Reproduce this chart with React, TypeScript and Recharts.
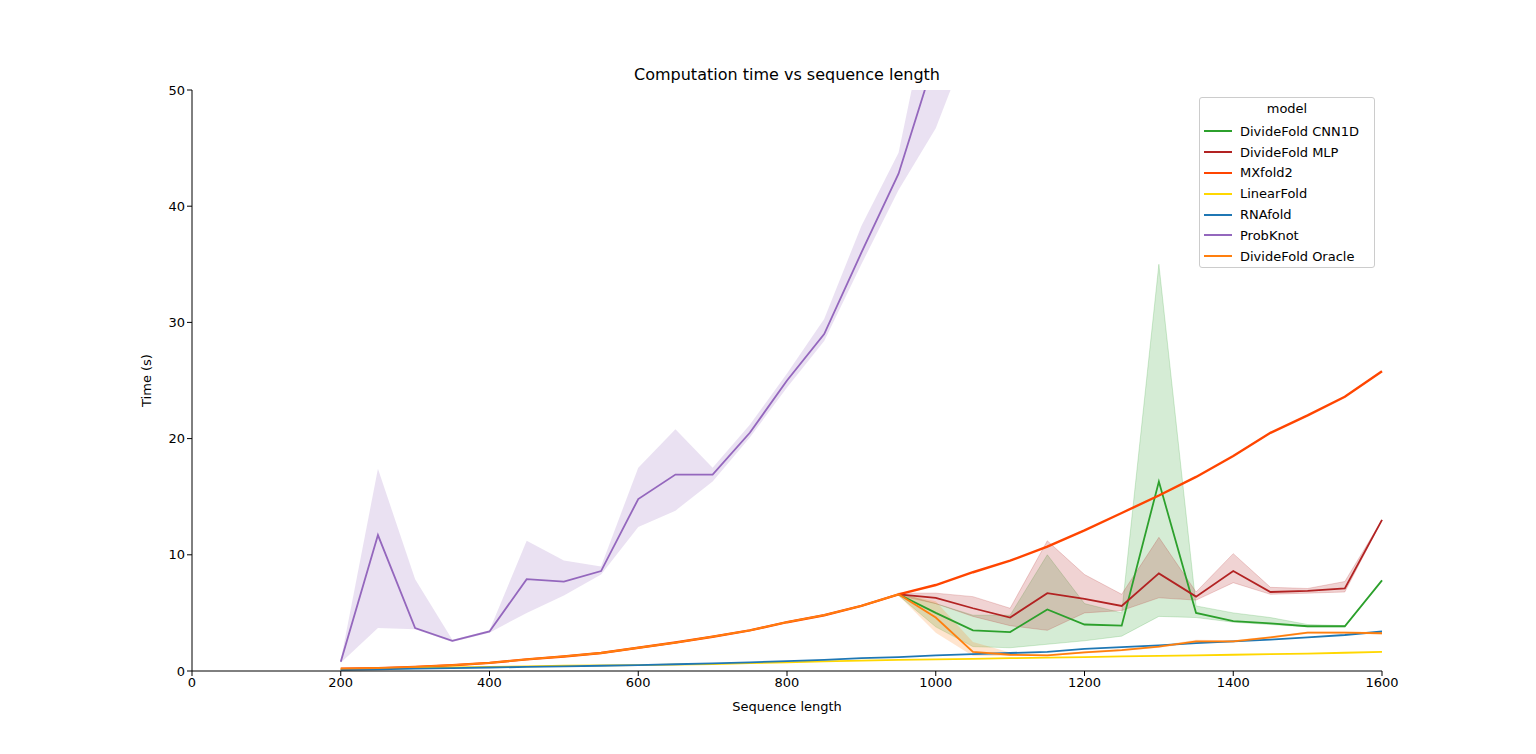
import React from 'react';
import { ComposedChart, Line, Area, XAxis, YAxis } from 'recharts';

const lengths = [200, 250, 300, 350, 400, 450, 500, 550, 600, 650, 700, 750, 800, 850, 900, 950, 1000, 1050, 1100, 1150, 1200, 1250, 1300, 1350, 1400, 1450, 1500, 1550, 1600];
const N = null;

const mxfold2 = [0.2, 0.25, 0.35, 0.5, 0.7, 1.0, 1.25, 1.55, 2.0, 2.45, 2.95, 3.5, 4.2, 4.8, 5.6, 6.6, 7.4, 8.5, 9.5, 10.7, 12.1, 13.6, 15.1, 16.7, 18.5, 20.5, 22.0, 23.6, 25.8];
const probknot = [0.8, 11.7, 3.7, 2.6, 3.4, 7.9, 7.7, 8.6, 14.8, 16.9, 16.9, 20.5, 25.0, 29.0, 36.0, 42.8, 53.0, 62.0, N, N, N, N, N, N, N, N, N, N, N];
const probknotLo = [0.7, 3.7, 3.6, 2.5, 3.3, 5.0, 6.5, 8.3, 12.4, 13.8, 16.3, 20.1, 24.4, 28.4, 35.0, 41.4, 46.7, 55, N, N, N, N, N, N, N, N, N, N, N];
const probknotHi = [0.9, 17.4, 7.9, 2.7, 3.5, 11.2, 9.5, 9.0, 17.5, 20.8, 17.5, 21.2, 25.6, 30.3, 38.3, 44.6, 60, 70, N, N, N, N, N, N, N, N, N, N, N];
const cnn1d = [N, N, N, N, N, N, N, N, N, N, N, N, N, N, N, 6.6, 5.0, 3.5, 3.35, 5.3, 4.0, 3.9, 16.3, 5.0, 4.3, 4.1, 3.85, 3.85, 7.8];
const cnn1dLo = [N, N, N, N, N, N, N, N, N, N, N, N, N, N, N, 6.5, 3.8, 2.1, 2.0, 2.3, 2.6, 3.0, 4.7, 4.6, 4.2, 4.0, 3.8, 3.8, 7.8];
const cnn1dHi = [N, N, N, N, N, N, N, N, N, N, N, N, N, N, N, 6.7, 5.8, 4.8, 4.8, 10.0, 5.8, 5.0, 35.0, 5.6, 5.0, 4.6, 4.0, 3.9, 7.8];
const mlp = [N, N, N, N, N, N, N, N, N, N, N, N, N, N, N, 6.6, 6.3, 5.4, 4.6, 6.7, 6.2, 5.6, 8.4, 6.4, 8.6, 6.8, 6.9, 7.1, 13.0];
const mlpLo = [N, N, N, N, N, N, N, N, N, N, N, N, N, N, N, 6.5, 5.8, 4.7, 3.9, 3.5, 5.0, 5.2, 6.3, 6.1, 7.6, 6.6, 6.7, 6.8, 13.0];
const mlpHi = [N, N, N, N, N, N, N, N, N, N, N, N, N, N, N, 6.7, 6.7, 6.4, 5.4, 11.2, 8.3, 6.6, 11.5, 6.8, 10.1, 7.2, 7.1, 7.7, 13.0];
const oracle = [0.2, 0.25, 0.35, 0.5, 0.7, 1.0, 1.25, 1.55, 2.0, 2.45, 2.95, 3.5, 4.2, 4.8, 5.6, 6.6, 4.6, 1.65, 1.4, 1.35, 1.6, 1.8, 2.1, 2.55, 2.55, 2.9, 3.3, 3.3, 3.25];
const oracleLo = [N, N, N, N, N, N, N, N, N, N, N, N, N, N, N, 6.5, 3.3, 1.3, 1.3, 1.3, 1.5, 1.7, 2.0, 2.4, 2.45, 2.8, 3.2, 3.2, 3.15];
const oracleHi = [N, N, N, N, N, N, N, N, N, N, N, N, N, N, N, 6.7, 6.0, 2.5, 1.6, 1.45, 1.7, 1.9, 2.2, 2.7, 2.65, 3.0, 3.4, 3.4, 3.35];
const rnafold = [0.1, 0.15, 0.2, 0.25, 0.3, 0.35, 0.4, 0.45, 0.5, 0.58, 0.65, 0.75, 0.85, 0.95, 1.1, 1.2, 1.35, 1.45, 1.55, 1.65, 1.9, 2.05, 2.2, 2.4, 2.55, 2.7, 2.9, 3.1, 3.4];
const linearfold = [0.15, 0.2, 0.25, 0.3, 0.35, 0.4, 0.45, 0.48, 0.5, 0.55, 0.6, 0.68, 0.75, 0.82, 0.9, 0.95, 1.0, 1.05, 1.1, 1.15, 1.2, 1.25, 1.3, 1.35, 1.4, 1.45, 1.5, 1.57, 1.65];

const xTicks = [0, 200, 400, 600, 800, 1000, 1200, 1400, 1600];
const yTicks = [0, 10, 20, 30, 40, 50];

const pair = (lo: (number | null)[], hi: (number | null)[], i: number) =>
  lo[i] == null || hi[i] == null ? null : [lo[i], hi[i]];

const data = lengths.map((len, i) => ({
  len,
  mxfold2: mxfold2[i],
  probknot: probknot[i],
  probknotBand: pair(probknotLo, probknotHi, i),
  cnn1d: cnn1d[i],
  cnn1dBand: pair(cnn1dLo, cnn1dHi, i),
  mlp: mlp[i],
  mlpBand: pair(mlpLo, mlpHi, i),
  oracle: oracle[i],
  oracleBand: pair(oracleLo, oracleHi, i),
  rnafold: rnafold[i],
  linearfold: linearfold[i],
}));

const legendItems = [
  { name: 'DivideFold CNN1D', color: '#2ca02c' },
  { name: 'DivideFold MLP', color: '#b22222' },
  { name: 'MXfold2', color: '#ff4500' },
  { name: 'LinearFold', color: '#ffd700' },
  { name: 'RNAfold', color: '#1f77b4' },
  { name: 'ProbKnot', color: '#9467bd' },
  { name: 'DivideFold Oracle', color: '#ff7f0e' },
];

const font = 'DejaVu Sans, sans-serif';
const tick = { fill: '#000', fontSize: 13, fontFamily: font };

export default function App() {
  return (
    <div style={{ position: 'absolute', left: 0, top: 0, width: 1536, height: 754, background: '#fff', fontFamily: font }}>
      <div style={{ position: 'absolute', top: 65, left: 192, width: 1190, textAlign: 'center', fontSize: 16 }}>
        Computation time vs sequence length
      </div>
      <ComposedChart width={1536} height={754} data={data} margin={{ top: 90, right: 154, bottom: 43, left: 132 }}>
        <XAxis dataKey="len" type="number" domain={[0, 1600]} ticks={xTicks} tick={tick} stroke="#000"
          tickSize={5} height={40}
          label={{ value: 'Sequence length', position: 'insideBottom', offset: 0, fill: '#000', fontSize: 13, fontFamily: font }} />
        <XAxis xAxisId="top" orientation="top" dataKey="len" type="number" domain={[0, 1600]} tick={false} tickLine={false} stroke="#000" height={0} />
        <YAxis type="number" domain={[0, 50]} ticks={yTicks} allowDataOverflow tick={tick} stroke="#000" tickSize={5} width={60}
          label={{ value: 'Time (s)', angle: -90, position: 'insideLeft', offset: 14, fill: '#000', fontSize: 13, fontFamily: font, style: { textAnchor: 'middle' } }} />
        <YAxis yAxisId="right" orientation="right" domain={[0, 50]} tick={false} tickLine={false} stroke="#000" width={0} />
        <Area dataKey="probknotBand" stroke="none" fill="#9467bd" fillOpacity={0.2} isAnimationActive={false} />
        <Area dataKey="cnn1dBand" stroke="#2ca02c" strokeOpacity={0.2} fill="#2ca02c" fillOpacity={0.2} isAnimationActive={false} />
        <Area dataKey="mlpBand" stroke="#b22222" strokeOpacity={0.2} fill="#b22222" fillOpacity={0.2} isAnimationActive={false} />
        <Area dataKey="oracleBand" stroke="none" fill="#ff7f0e" fillOpacity={0.2} isAnimationActive={false} />
        <Line dataKey="cnn1d" stroke="#2ca02c" strokeWidth={1.8} dot={false} isAnimationActive={false} />
        <Line dataKey="mlp" stroke="#b22222" strokeWidth={1.8} dot={false} isAnimationActive={false} />
        <Line dataKey="mxfold2" stroke="#ff4500" strokeWidth={2.4} dot={false} isAnimationActive={false} />
        <Line dataKey="linearfold" stroke="#ffd700" strokeWidth={1.8} dot={false} isAnimationActive={false} />
        <Line dataKey="rnafold" stroke="#1f77b4" strokeWidth={1.8} dot={false} isAnimationActive={false} />
        <Line dataKey="probknot" stroke="#9467bd" strokeWidth={1.8} dot={false} isAnimationActive={false} />
        <Line dataKey="oracle" stroke="#ff7f0e" strokeWidth={1.8} dot={false} isAnimationActive={false} />
      </ComposedChart>
      <div style={{ position: 'absolute', left: 1199, top: 97, width: 176, height: 171, boxSizing: 'border-box', border: '1px solid #ccc', borderRadius: 3, background: 'rgba(255,255,255,0.8)', fontSize: 13 }}>
        <div style={{ textAlign: 'center', marginTop: 3, height: 20 }}>model</div>
        {legendItems.map((it) => (
          <div key={it.name} style={{ display: 'flex', alignItems: 'center', height: 20.8, paddingLeft: 4 }}>
            <span style={{ display: 'inline-block', width: 28, height: 2, background: it.color, marginRight: 8 }} />
            {it.name}
          </div>
        ))}
      </div>
    </div>
  );
}
